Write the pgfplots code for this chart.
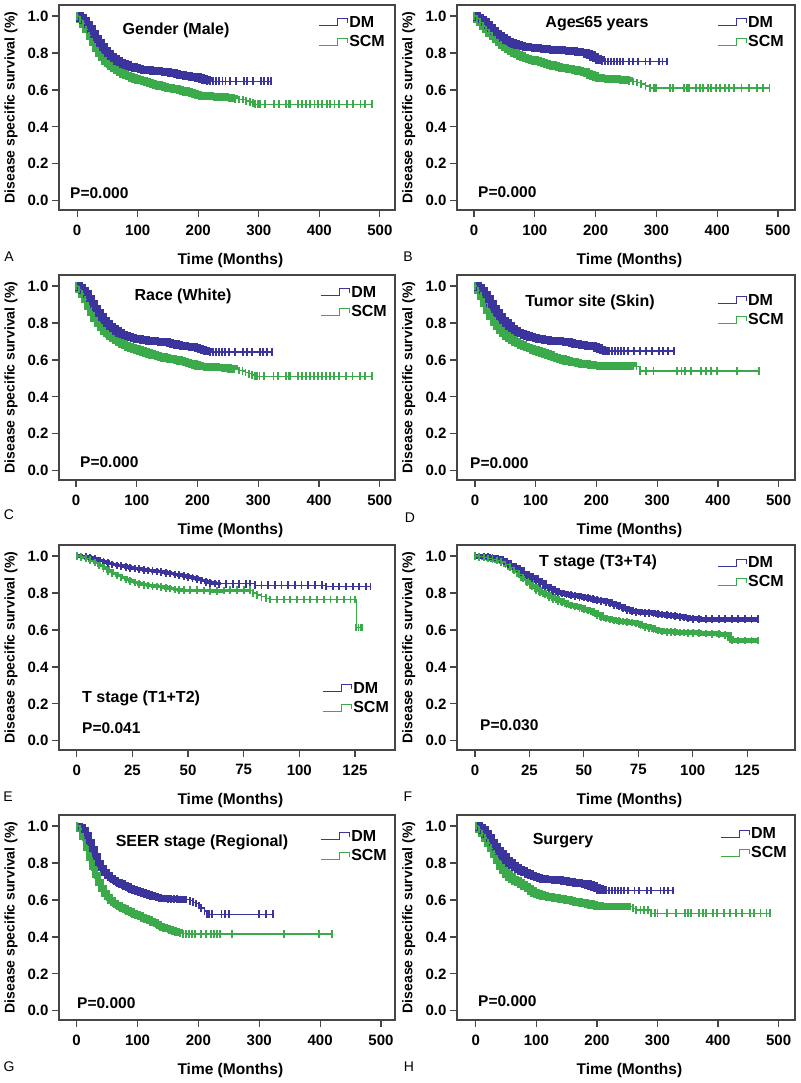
\documentclass[border=0pt]{standalone}
\usepackage{fontspec}
\setmainfont{Liberation Sans}
\usepackage{pgfplots}
\usepackage{pgfplotstable}
\pgfplotsset{compat=1.18}
\definecolor{dm}{RGB}{58,52,156}
\definecolor{scm}{RGB}{58,170,74}
\definecolor{frm}{RGB}{70,70,70}
\newcommand\fA{\fontsize{15}{18}\selectfont\bfseries}
\newcommand\fT{\fontsize{16}{19}\selectfont\bfseries}
\newcommand\fL{\fontsize{15.5}{18}\selectfont\bfseries}
\newcommand\fY{\fontsize{14}{17}\selectfont\bfseries}
\newcommand\fR{\fontsize{14}{17}\selectfont}
\pgfplotsset{
  /pgf/number format/assume math mode=true,
  km/.style={
    scale only axis, anchor=south west, height=205pt,
    ymin=-0.05, ymax=1.06, ytick={0,0.2,0.4,0.6,0.8,1.0},
    axis line style={frm, line width=1.2pt},
    tick align=outside, tick pos=left,
    major tick length=7pt,
    every tick/.style={frm, line width=1.2pt},
    tick label style={font=\fA},
    xticklabel style={yshift=-4pt},
    yticklabel style={/pgf/number format/fixed, /pgf/number format/fixed zerofill, /pgf/number format/precision=1},
    xlabel={Time (Months)}, ylabel={Disease specific survival (\%)},
    xlabel style={font=\fL, at={(axis description cs:0.51,-0.244)}, anchor=center},
    ylabel style={font=\fY, at={(axis description cs:-0.143,0.5)}, anchor=center},
    legend style={draw=none, fill=none, font=\fT, anchor=north west, inner sep=0pt, row sep=5pt,
      nodes={inner sep=1pt}},
    legend cell align=left,
    legend image code/.code={\draw[#1, line width=1pt] (0pt,-3.5pt) -- (19pt,-3.5pt) -- (19pt,3.5pt) -- (29pt,3.5pt) -- (29pt,-1pt);},
  },
  dmp/.style={color=dm, line width=1.3pt, const plot, mark=|, mark size=3.8pt, mark options={line width=1.9pt}},
  scmp/.style={color=scm, line width=1.3pt, const plot, mark=|, mark size=3.8pt, mark options={line width=1.9pt}},
  band/.style={forget plot, const plot, no marks, line width=#1},
}
% ===== data: A
\pgfplotstableread[row sep=\\]{x y\\0 1.000\\5 0.990\\10 0.975\\15 0.955\\20 0.930\\25 0.903\\30 0.877\\35 0.853\\40 0.832\\45 0.813\\50 0.797\\55 0.782\\60 0.769\\65 0.758\\70 0.749\\75 0.741\\80 0.734\\85 0.728\\90 0.723\\95 0.719\\100 0.715\\105 0.712\\110 0.709\\115 0.707\\120 0.705\\125 0.703\\130 0.702\\135 0.700\\140 0.699\\145 0.697\\150 0.695\\155 0.692\\160 0.688\\165 0.684\\170 0.680\\175 0.677\\180 0.675\\185 0.673\\190 0.671\\195 0.669\\200 0.666\\205 0.660\\210 0.655\\215 0.650\\220 0.647\\225 0.647\\230 0.647\\235 0.647\\240 0.647\\245 0.647\\252 0.647\\262 0.647\\275 0.647\\281 0.647\\290 0.647\\303 0.647\\308 0.647\\315 0.647\\320 0.647\\}\tAdm
\pgfplotstableread[row sep=\\]{x y\\0 1.000\\5 0.982\\10 0.958\\15 0.927\\20 0.893\\25 0.860\\30 0.828\\35 0.799\\40 0.776\\45 0.758\\50 0.742\\55 0.729\\60 0.717\\65 0.706\\70 0.696\\75 0.687\\80 0.679\\85 0.672\\90 0.666\\95 0.660\\100 0.655\\105 0.650\\110 0.645\\115 0.640\\120 0.635\\125 0.630\\130 0.626\\135 0.622\\140 0.618\\145 0.614\\150 0.611\\155 0.608\\160 0.605\\165 0.602\\170 0.598\\175 0.594\\180 0.590\\185 0.585\\190 0.580\\195 0.575\\200 0.570\\205 0.568\\210 0.567\\215 0.566\\220 0.565\\225 0.564\\230 0.563\\235 0.562\\240 0.561\\245 0.560\\250 0.558\\255 0.555\\260 0.552\\268 0.548\\274 0.548\\279 0.540\\285 0.535\\290 0.530\\294 0.523\\298 0.523\\302 0.523\\310 0.523\\325 0.523\\333 0.523\\345 0.523\\350 0.523\\352 0.523\\365 0.523\\372 0.523\\378 0.523\\385 0.523\\392 0.523\\398 0.523\\405 0.523\\412 0.523\\418 0.523\\425 0.523\\433 0.523\\445 0.523\\455 0.523\\468 0.523\\475 0.523\\487 0.523\\}\tAscm
% ===== data: B
\pgfplotstableread[row sep=\\]{x y\\0 1.000\\5 0.993\\10 0.982\\15 0.968\\20 0.952\\25 0.936\\30 0.920\\35 0.905\\40 0.892\\45 0.881\\50 0.871\\55 0.862\\60 0.855\\65 0.849\\70 0.844\\75 0.840\\80 0.836\\85 0.833\\90 0.831\\95 0.829\\100 0.827\\105 0.825\\110 0.824\\115 0.822\\120 0.820\\125 0.818\\130 0.817\\135 0.816\\140 0.815\\145 0.814\\150 0.813\\155 0.812\\160 0.810\\165 0.808\\170 0.806\\175 0.804\\180 0.802\\185 0.796\\190 0.788\\195 0.778\\200 0.770\\205 0.762\\210 0.756\\215 0.755\\220 0.755\\225 0.755\\230 0.755\\235 0.755\\240 0.755\\245 0.755\\255 0.755\\262 0.755\\270 0.755\\282 0.755\\290 0.755\\305 0.755\\310 0.755\\318 0.755\\}\tBdm
\pgfplotstableread[row sep=\\]{x y\\0 1.000\\5 0.985\\10 0.967\\15 0.947\\20 0.928\\25 0.909\\30 0.891\\35 0.873\\40 0.857\\45 0.843\\50 0.830\\55 0.818\\60 0.808\\65 0.799\\70 0.791\\75 0.784\\80 0.777\\85 0.771\\90 0.766\\95 0.761\\100 0.757\\105 0.753\\110 0.748\\115 0.743\\120 0.738\\125 0.734\\130 0.730\\135 0.726\\140 0.722\\145 0.719\\150 0.716\\155 0.713\\160 0.710\\165 0.707\\170 0.703\\175 0.700\\180 0.697\\185 0.690\\190 0.682\\195 0.675\\200 0.668\\205 0.664\\210 0.662\\215 0.661\\220 0.660\\225 0.659\\230 0.658\\235 0.657\\240 0.656\\245 0.655\\250 0.652\\255 0.648\\262 0.645\\268 0.640\\274 0.632\\282 0.622\\290 0.611\\296 0.611\\300 0.611\\322 0.611\\328 0.611\\345 0.611\\350 0.611\\353 0.611\\365 0.611\\372 0.611\\376 0.611\\385 0.611\\390 0.611\\398 0.611\\405 0.611\\413 0.611\\420 0.611\\428 0.611\\440 0.611\\452 0.611\\465 0.611\\475 0.611\\486 0.611\\}\tBscm
% ===== data: C
\pgfplotstableread[row sep=\\]{x y\\0 1.000\\5 0.991\\10 0.977\\15 0.957\\20 0.932\\25 0.905\\30 0.879\\35 0.855\\40 0.833\\45 0.814\\50 0.797\\55 0.782\\60 0.769\\65 0.757\\70 0.747\\75 0.739\\80 0.732\\85 0.726\\90 0.721\\95 0.717\\100 0.713\\105 0.710\\110 0.707\\115 0.705\\120 0.703\\125 0.702\\130 0.701\\135 0.699\\140 0.698\\145 0.696\\150 0.694\\155 0.690\\160 0.686\\165 0.682\\170 0.679\\175 0.676\\180 0.674\\185 0.672\\190 0.670\\195 0.667\\200 0.663\\205 0.657\\210 0.651\\215 0.646\\220 0.643\\225 0.643\\230 0.643\\235 0.643\\240 0.643\\245 0.643\\252 0.643\\262 0.643\\275 0.643\\281 0.643\\290 0.643\\303 0.643\\308 0.643\\315 0.643\\322 0.643\\}\tCdm
\pgfplotstableread[row sep=\\]{x y\\0 1.000\\5 0.982\\10 0.957\\15 0.926\\20 0.892\\25 0.859\\30 0.828\\35 0.800\\40 0.777\\45 0.758\\50 0.742\\55 0.728\\60 0.716\\65 0.705\\70 0.695\\75 0.686\\80 0.678\\85 0.671\\90 0.665\\95 0.659\\100 0.653\\105 0.648\\110 0.643\\115 0.638\\120 0.633\\125 0.628\\130 0.623\\135 0.619\\140 0.615\\145 0.611\\150 0.608\\155 0.605\\160 0.602\\165 0.599\\170 0.595\\175 0.591\\180 0.587\\185 0.582\\190 0.577\\195 0.572\\200 0.567\\205 0.565\\210 0.564\\215 0.563\\220 0.562\\225 0.561\\230 0.560\\235 0.559\\240 0.558\\245 0.557\\250 0.555\\255 0.552\\260 0.548\\268 0.542\\274 0.540\\279 0.532\\285 0.525\\290 0.518\\294 0.512\\298 0.512\\302 0.512\\310 0.512\\325 0.512\\333 0.512\\345 0.512\\350 0.512\\352 0.512\\365 0.512\\372 0.512\\378 0.512\\385 0.512\\392 0.512\\398 0.512\\405 0.512\\412 0.512\\418 0.512\\425 0.512\\433 0.512\\445 0.512\\455 0.512\\468 0.512\\475 0.512\\487 0.512\\}\tCscm
% ===== data: D
\pgfplotstableread[row sep=\\]{x y\\0 1.000\\5 0.991\\10 0.976\\15 0.955\\20 0.930\\25 0.903\\30 0.877\\35 0.853\\40 0.834\\45 0.815\\50 0.799\\55 0.784\\60 0.771\\65 0.760\\70 0.750\\75 0.742\\80 0.735\\85 0.729\\90 0.725\\95 0.721\\100 0.717\\105 0.713\\110 0.710\\115 0.708\\120 0.706\\125 0.704\\130 0.703\\135 0.702\\140 0.701\\145 0.700\\150 0.698\\155 0.694\\160 0.690\\165 0.686\\170 0.683\\175 0.680\\180 0.678\\185 0.676\\190 0.675\\195 0.672\\200 0.665\\205 0.657\\210 0.652\\215 0.649\\220 0.649\\225 0.649\\230 0.649\\235 0.649\\240 0.649\\245 0.649\\252 0.649\\262 0.649\\272 0.649\\282 0.649\\291 0.649\\303 0.649\\310 0.649\\318 0.649\\327 0.649\\}\tDdm
\pgfplotstableread[row sep=\\]{x y\\0 1.000\\5 0.975\\10 0.945\\15 0.905\\20 0.868\\25 0.835\\30 0.806\\35 0.782\\40 0.762\\45 0.745\\50 0.731\\55 0.718\\60 0.707\\65 0.698\\70 0.689\\75 0.681\\80 0.674\\85 0.667\\90 0.661\\95 0.655\\100 0.649\\105 0.643\\110 0.638\\115 0.633\\120 0.626\\125 0.620\\130 0.614\\135 0.609\\140 0.604\\145 0.599\\150 0.595\\155 0.591\\160 0.588\\165 0.585\\170 0.582\\175 0.579\\180 0.577\\185 0.575\\190 0.573\\195 0.571\\200 0.569\\205 0.568\\210 0.567\\215 0.567\\220 0.567\\225 0.567\\230 0.567\\235 0.567\\240 0.567\\245 0.567\\250 0.567\\255 0.567\\260 0.566\\266 0.566\\272 0.540\\282 0.540\\294 0.540\\332 0.540\\340 0.540\\346 0.540\\355 0.540\\372 0.540\\380 0.540\\389 0.540\\398 0.540\\432 0.540\\467 0.540\\}\tDscm
% ===== data: E
\pgfplotstableread[row sep=\\]{x y\\0 1.000\\2 0.998\\4 0.995\\6 0.990\\8 0.983\\10 0.975\\12 0.968\\14 0.961\\16 0.955\\18 0.950\\20 0.945\\22 0.940\\24 0.936\\26 0.932\\28 0.929\\30 0.926\\32 0.923\\34 0.920\\36 0.917\\38 0.913\\40 0.909\\42 0.905\\44 0.901\\46 0.897\\48 0.893\\50 0.888\\52 0.882\\54 0.875\\56 0.867\\58 0.860\\60 0.853\\62 0.851\\64 0.850\\67 0.850\\70 0.850\\73 0.850\\76 0.850\\78 0.850\\80 0.842\\83 0.842\\86 0.842\\89 0.842\\92 0.842\\95 0.842\\98 0.842\\101 0.842\\104 0.842\\107 0.842\\110 0.842\\112 0.836\\115 0.836\\118 0.836\\121 0.836\\124 0.836\\127 0.836\\130 0.836\\132 0.836\\}\tEdm
\pgfplotstableread[row sep=\\]{x y\\0 1.000\\2 0.995\\4 0.988\\6 0.978\\8 0.965\\10 0.950\\12 0.935\\14 0.920\\16 0.907\\18 0.895\\20 0.884\\22 0.873\\24 0.864\\26 0.856\\28 0.850\\30 0.845\\32 0.841\\34 0.838\\36 0.835\\38 0.832\\40 0.828\\42 0.824\\44 0.820\\46 0.817\\48 0.815\\51 0.815\\54 0.815\\57 0.813\\60 0.812\\63 0.812\\66 0.813\\69 0.815\\72 0.815\\75 0.815\\78 0.815\\79 0.800\\81 0.790\\83 0.780\\85 0.772\\87 0.765\\90 0.764\\93 0.764\\96 0.764\\99 0.764\\102 0.764\\105 0.764\\108 0.764\\111 0.764\\114 0.764\\117 0.764\\120 0.764\\123 0.764\\125 0.764\\125.6 0.613\\126.6 0.613\\127.6 0.613\\128.4 0.613\\}\tEscm
% ===== data: F
\pgfplotstableread[row sep=\\]{x y\\0 1.000\\2 0.998\\4 0.996\\6 0.994\\8 0.990\\10 0.985\\12 0.975\\14 0.963\\16 0.950\\18 0.940\\20 0.925\\22 0.908\\24 0.893\\26 0.882\\28 0.870\\30 0.855\\32 0.838\\34 0.824\\36 0.812\\38 0.802\\40 0.797\\42 0.793\\44 0.788\\46 0.784\\48 0.780\\50 0.776\\52 0.772\\54 0.767\\56 0.762\\58 0.757\\60 0.752\\62 0.745\\64 0.736\\66 0.727\\68 0.718\\70 0.709\\72 0.702\\74 0.698\\76 0.695\\78 0.693\\80 0.692\\82 0.689\\84 0.686\\86 0.683\\88 0.681\\90 0.678\\92 0.675\\94 0.671\\96 0.667\\98 0.663\\100 0.660\\103 0.659\\106 0.659\\109 0.659\\112 0.659\\115 0.659\\118 0.659\\121 0.659\\124 0.659\\127 0.659\\130 0.659\\}\tFdm
\pgfplotstableread[row sep=\\]{x y\\0 1.000\\2 0.996\\4 0.992\\6 0.988\\8 0.983\\10 0.977\\12 0.968\\14 0.955\\16 0.940\\18 0.922\\20 0.902\\22 0.880\\24 0.857\\26 0.835\\28 0.818\\30 0.804\\32 0.792\\34 0.780\\36 0.768\\38 0.758\\40 0.748\\42 0.740\\44 0.733\\46 0.726\\48 0.719\\50 0.713\\52 0.705\\54 0.694\\56 0.682\\58 0.670\\60 0.662\\62 0.656\\64 0.651\\66 0.648\\68 0.645\\70 0.642\\72 0.640\\74 0.634\\76 0.625\\78 0.617\\80 0.612\\82 0.605\\84 0.598\\86 0.592\\88 0.590\\90 0.589\\92 0.588\\94 0.587\\96 0.586\\98 0.585\\100 0.584\\103 0.582\\106 0.580\\109 0.579\\112 0.578\\115 0.574\\117 0.556\\118 0.543\\121 0.543\\124 0.543\\127 0.543\\130 0.543\\}\tFscm
% ===== data: G
\pgfplotstableread[row sep=\\]{x y\\0 1.000\\5 0.995\\10 0.980\\15 0.950\\20 0.915\\25 0.875\\30 0.835\\35 0.800\\40 0.772\\45 0.750\\50 0.733\\55 0.719\\60 0.707\\65 0.697\\70 0.688\\75 0.680\\80 0.672\\85 0.665\\90 0.658\\95 0.652\\100 0.646\\105 0.640\\110 0.634\\115 0.629\\120 0.625\\125 0.620\\130 0.616\\135 0.612\\140 0.609\\145 0.607\\150 0.606\\155 0.605\\160 0.604\\165 0.604\\170 0.603\\175 0.603\\180 0.603\\186 0.596\\191 0.588\\196 0.580\\201 0.570\\205 0.556\\210 0.540\\214 0.525\\218 0.523\\222 0.523\\238 0.523\\243 0.523\\251 0.523\\300 0.523\\311 0.523\\322 0.523\\}\tGdm
\pgfplotstableread[row sep=\\]{x y\\0 1.000\\5 0.985\\10 0.940\\15 0.885\\20 0.830\\25 0.780\\30 0.735\\35 0.695\\40 0.662\\45 0.636\\50 0.615\\55 0.598\\60 0.584\\65 0.573\\70 0.562\\75 0.553\\80 0.545\\85 0.537\\90 0.529\\95 0.522\\100 0.515\\105 0.508\\110 0.500\\115 0.493\\120 0.485\\125 0.478\\130 0.470\\135 0.460\\140 0.452\\145 0.446\\150 0.442\\155 0.436\\160 0.430\\165 0.425\\170 0.420\\175 0.417\\180 0.415\\185 0.415\\190 0.415\\195 0.415\\205 0.415\\212 0.415\\220 0.415\\225 0.415\\230 0.415\\235 0.415\\255 0.415\\340 0.415\\398 0.415\\420 0.415\\}\tGscm
% ===== data: H
\pgfplotstableread[row sep=\\]{x y\\0 1.000\\5 0.992\\10 0.978\\15 0.958\\20 0.935\\25 0.910\\30 0.886\\35 0.864\\40 0.848\\45 0.832\\50 0.815\\55 0.800\\60 0.787\\65 0.776\\70 0.766\\75 0.757\\80 0.748\\85 0.740\\90 0.732\\95 0.726\\100 0.721\\105 0.717\\110 0.714\\115 0.712\\120 0.711\\125 0.710\\130 0.709\\135 0.707\\140 0.705\\145 0.703\\150 0.701\\155 0.698\\160 0.695\\165 0.692\\170 0.690\\175 0.688\\180 0.686\\185 0.682\\190 0.676\\195 0.668\\200 0.661\\205 0.655\\210 0.651\\215 0.651\\220 0.651\\225 0.651\\230 0.651\\235 0.651\\240 0.651\\245 0.651\\252 0.651\\262 0.651\\270 0.651\\282 0.651\\290 0.651\\305 0.651\\310 0.651\\318 0.651\\325 0.651\\}\tHdm
\pgfplotstableread[row sep=\\]{x y\\0 1.000\\5 0.982\\10 0.960\\15 0.935\\20 0.908\\25 0.880\\30 0.850\\35 0.815\\40 0.785\\45 0.760\\50 0.740\\55 0.724\\60 0.712\\65 0.703\\70 0.695\\75 0.685\\80 0.674\\85 0.662\\90 0.648\\95 0.637\\100 0.631\\105 0.626\\110 0.622\\115 0.619\\120 0.616\\125 0.614\\130 0.611\\135 0.608\\140 0.605\\145 0.602\\150 0.600\\155 0.597\\160 0.593\\165 0.590\\170 0.587\\175 0.584\\180 0.581\\185 0.577\\190 0.573\\195 0.569\\200 0.566\\205 0.564\\210 0.564\\215 0.564\\220 0.564\\225 0.564\\230 0.564\\235 0.564\\240 0.564\\245 0.564\\250 0.564\\255 0.564\\260 0.555\\265 0.546\\272 0.546\\278 0.546\\284 0.546\\290 0.528\\296 0.528\\300 0.528\\315 0.528\\330 0.528\\345 0.528\\350 0.528\\355 0.528\\368 0.528\\375 0.528\\380 0.528\\392 0.528\\398 0.528\\410 0.528\\420 0.528\\430 0.528\\440 0.528\\453 0.528\\460 0.528\\470 0.528\\480 0.528\\486 0.528\\}\tHscm
\begin{document}
\begin{tikzpicture}
\path[use as bounding box] (0pt,0pt) rectangle (800pt,-1083pt);
% ---------------- A
\begin{axis}[km, at={(59pt,-210pt)}, width=336pt, xmin=-30, xmax=525, xtick={0,100,200,300,400,500}, legend style={at={(0.771,0.951)}}]
\addplot[scm, band=7.5pt, restrict x to domain=0:260] table {\tAscm};
\addplot[dm, band=7.5pt, restrict x to domain=0:220] table {\tAdm};
\addplot[dmp] table {\tAdm};
\addplot[scmp] table {\tAscm};
\legend{DM,SCM}
\end{axis}
% ---------------- B
\begin{axis}[km, at={(457pt,-210pt)}, width=338pt, xmin=-28, xmax=528, xtick={0,100,200,300,400,500}, legend style={at={(0.769,0.951)}}]
\addplot[scm, band=7.5pt, restrict x to domain=0:255] table {\tBscm};
\addplot[dm, band=7.5pt, restrict x to domain=0:210] table {\tBdm};
\addplot[dmp] table {\tBdm};
\addplot[scmp] table {\tBscm};
\legend{DM,SCM}
\end{axis}
% ---------------- C
\begin{axis}[km, at={(59pt,-480pt)}, width=336pt, xmin=-28, xmax=525, xtick={0,100,200,300,400,500}, legend style={at={(0.777,0.951)}}]
\addplot[scm, band=7.5pt, restrict x to domain=0:260] table {\tCscm};
\addplot[dm, band=7.5pt, restrict x to domain=0:220] table {\tCdm};
\addplot[dmp] table {\tCdm};
\addplot[scmp] table {\tCscm};
\legend{DM,SCM}
\end{axis}
% ---------------- D
\begin{axis}[km, at={(457pt,-480pt)}, width=338pt, xmin=-29.7, xmax=527, xtick={0,100,200,300,400,500}, legend style={at={(0.769,0.912)}}]
\addplot[scm, band=7.5pt, restrict x to domain=0:260] table {\tDscm};
\addplot[dm, band=7.5pt, restrict x to domain=0:220] table {\tDdm};
\addplot[dmp] table {\tDdm};
\addplot[scmp] table {\tDscm};
\legend{DM,SCM}
\end{axis}
% ---------------- E
\begin{axis}[km, at={(59pt,-750pt)}, width=336pt, xmin=-8, xmax=143, xtick={0,25,50,75,100,125}, legend style={at={(0.783,0.337)}}]
\addplot[scm, band=3.5pt, restrict x to domain=0:78] table {\tEscm};
\addplot[dm, band=3.5pt, restrict x to domain=0:64] table {\tEdm};
\addplot[dmp] table {\tEdm};
\addplot[scmp] table {\tEscm};
\legend{DM,SCM}
\end{axis}
% ---------------- F
\begin{axis}[km, at={(457pt,-750pt)}, width=338pt, xmin=-8.3, xmax=147, xtick={0,25,50,75,100,125}, legend style={at={(0.769,0.951)}}]
\addplot[scm, band=5pt, restrict x to domain=0:130] table {\tFscm};
\addplot[dm, band=5pt, restrict x to domain=0:130] table {\tFdm};
\addplot[dmp] table {\tFdm};
\addplot[scmp] table {\tFscm};
\legend{DM,SCM}
\end{axis}
% ---------------- G
\begin{axis}[km, at={(59pt,-1020pt)}, width=336pt, xmin=-29, xmax=523, xtick={0,100,200,300,400,500}, legend style={at={(0.777,0.932)}}]
\addplot[scm, band=6.5pt, restrict x to domain=0:170] table {\tGscm};
\addplot[dm, band=6.5pt, restrict x to domain=0:180] table {\tGdm};
\addplot[dmp] table {\tGdm};
\addplot[scmp] table {\tGscm};
\legend{DM,SCM}
\end{axis}
% ---------------- H
\begin{axis}[km, at={(457pt,-1020pt)}, width=338pt, xmin=-31, xmax=527, xtick={0,100,200,300,400,500}, legend style={at={(0.778,0.946)}}]
\addplot[scm, band=7.5pt, restrict x to domain=0:255] table {\tHscm};
\addplot[dm, band=7.5pt, restrict x to domain=0:215] table {\tHdm};
\addplot[dmp] table {\tHdm};
\addplot[scmp] table {\tHscm};
\legend{DM,SCM}
\end{axis}
% ---------------- texts
\begin{scope}[every node/.style={inner sep=0pt}]
\node[font=\fT] at (176pt,-30pt) {Gender (Male)};
\node[font=\fT] at (597pt,-24pt) {Age≤65 years};
\node[font=\fT] at (183pt,-296pt) {Race (White)};
\node[font=\fT] at (590pt,-302pt) {Tumor site (Skin)};
\node[font=\fT, anchor=west] at (82pt,-698pt) {T stage (T1+T2)};
\node[font=\fT] at (598pt,-562pt) {T stage (T3+T4)};
\node[font=\fT] at (202pt,-842pt) {SEER stage (Regional)};
\node[font=\fT] at (563pt,-841pt) {Surgery};
\node[font=\fL, anchor=west] at (70pt,-193pt) {P=0.000};
\node[font=\fL, anchor=west] at (478pt,-192pt) {P=0.000};
\node[font=\fL, anchor=west] at (80pt,-462pt) {P=0.000};
\node[font=\fL, anchor=west] at (470pt,-463pt) {P=0.000};
\node[font=\fL, anchor=west] at (82pt,-728pt) {P=0.041};
\node[font=\fL, anchor=west] at (480pt,-725pt) {P=0.030};
\node[font=\fL, anchor=west] at (77pt,-1003pt) {P=0.000};
\node[font=\fL, anchor=west] at (478pt,-1001pt) {P=0.000};
\node[font=\fR] at (9pt,-257pt) {A};
\node[font=\fR] at (408pt,-257pt) {B};
\node[font=\fR] at (9pt,-515pt) {C};
\node[font=\fR] at (410pt,-518pt) {D};
\node[font=\fR] at (8pt,-797pt) {E};
\node[font=\fR] at (408pt,-797pt) {F};
\node[font=\fR] at (9pt,-1067pt) {G};
\node[font=\fR] at (409pt,-1067pt) {H};
\end{scope}
\end{tikzpicture}
\end{document}
